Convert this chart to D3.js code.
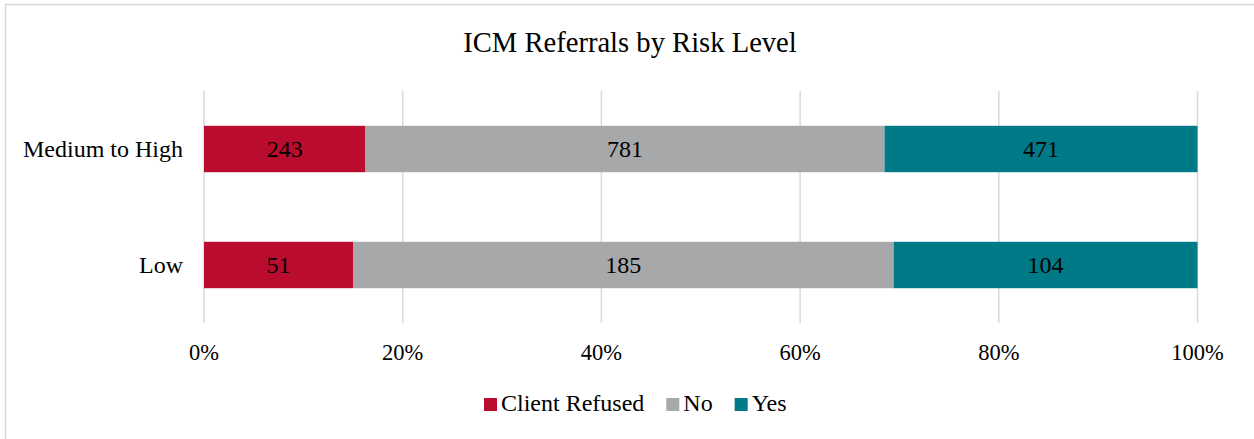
<!DOCTYPE html>
<html>
<head>
<meta charset="utf-8" />
<title>ICM Referrals by Risk Level</title>
<script src="https://d3js.org/d3.v7.min.js"></script>
<style>
  body { margin: 0; background: #fff; }
  svg text { font-family: "Liberation Serif", "Times New Roman", serif; fill: #000; }
</style>
</head>
<body>
<script>
// data
var categories = ["Medium to High", "Low"];
var seriesNames = ["Client Refused", "No", "Yes"];
var refused = [243, 51];
var no = [781, 185];
var yes = [471, 104];
var tickValues = [0, 0.2, 0.4, 0.6, 0.8, 1];
var colors = ["#BA0C2F", "#A7A8AA", "#007A87"];

var w = 1254, h = 439;

var svg = d3.select("body").append("svg")
    .attr("width", w)
    .attr("height", h);

// chart border
svg.append("rect")
    .attr("x", 5.5).attr("y", 4.5)
    .attr("width", 1270).attr("height", 450)
    .attr("fill", "none")
    .attr("stroke", "#d9d9d9")
    .attr("stroke-width", 1.5);

// title
svg.append("text")
    .attr("x", 630).attr("y", 52)
    .attr("text-anchor", "middle")
    .attr("font-size", 28.6)
    .text("ICM Referrals by Risk Level");

var x = d3.scaleLinear().domain([0, 1]).range([204, 1197.5]);
var y = d3.scaleBand().domain(categories).range([91, 323])
    .paddingInner(0.6).paddingOuter(0.3);

// gridlines
svg.selectAll("line.grid")
    .data(tickValues)
    .enter().append("line")
    .attr("class", "grid")
    .attr("x1", function (d) { return x(d); })
    .attr("x2", function (d) { return x(d); })
    .attr("y1", 91).attr("y2", 323)
    .attr("stroke", "#d9d9d9")
    .attr("stroke-width", 1.5);

// tick labels
svg.selectAll("text.tick")
    .data(tickValues)
    .enter().append("text")
    .attr("class", "tick")
    .attr("x", function (d) { return x(d); })
    .attr("y", 360)
    .attr("text-anchor", "middle")
    .attr("font-size", 22.5)
    .text(function (d) { return d3.format(".0%")(d); });

// category labels
svg.selectAll("text.cat")
    .data(categories)
    .enter().append("text")
    .attr("class", "cat")
    .attr("x", 183)
    .attr("y", function (d) { return y(d) + y.bandwidth() / 2 + 8; })
    .attr("text-anchor", "end")
    .attr("font-size", 24)
    .text(function (d) { return d; });

// stacked rows
var rows = categories.map(function (c, i) {
    var vals = [refused[i], no[i], yes[i]];
    var total = d3.sum(vals);
    var acc = 0;
    return vals.map(function (v, j) {
        var seg = { cat: c, v: v, s: j, x0: acc / total, x1: (acc + v) / total };
        acc += v;
        return seg;
    });
});
var segs = d3.merge(rows);

svg.selectAll("rect.bar")
    .data(segs)
    .enter().append("rect")
    .attr("class", "bar")
    .attr("x", function (d) { return x(d.x0); })
    .attr("width", function (d) { return x(d.x1) - x(d.x0); })
    .attr("y", function (d) { return y(d.cat); })
    .attr("height", y.bandwidth())
    .attr("fill", function (d) { return colors[d.s]; });

svg.selectAll("text.val")
    .data(segs)
    .enter().append("text")
    .attr("class", "val")
    .attr("x", function (d) { return (x(d.x0) + x(d.x1)) / 2; })
    .attr("y", function (d) { return y(d.cat) + y.bandwidth() / 2 + 8; })
    .attr("text-anchor", "middle")
    .attr("font-size", 24)
    .text(function (d) { return d.v; });

// legend
var legend = svg.append("g");
var lx = 484;
seriesNames.forEach(function (name, i) {
    legend.append("rect")
        .attr("x", lx).attr("y", 398)
        .attr("width", 13).attr("height", 13)
        .attr("fill", colors[i]);
    var t = legend.append("text")
        .attr("x", lx + 17).attr("y", 411)
        .attr("font-size", 24)
        .text(name);
    lx += 17 + t.node().getComputedTextLength() + 22;
});
</script>
</body>
</html>
